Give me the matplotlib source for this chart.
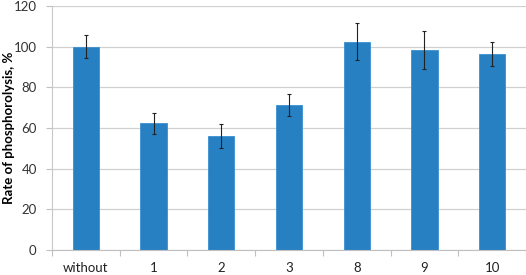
import matplotlib.pyplot as plt
import numpy as np

categories = ["without", "1", "2", "3", "8", "9", "10"]
rates = [100.0, 62.4, 56.2, 71.1, 102.5, 98.4, 96.4]
errors = [5.8, 5.2, 6.0, 5.4, 9.0, 9.3, 6.0]
y_ticks = [0, 20, 40, 60, 80, 100, 120]

plt.rcParams['font.family'] = ['Lato', 'DejaVu Sans']

fig = plt.figure(figsize=(5.26, 2.75), dpi=100)
ax = fig.add_axes([52 / 526, 25 / 275, 474 / 526, 244 / 275])

x = np.arange(len(categories))
ax.bar(x, rates, width=0.39, color="#2680c2", edgecolor="#3a8fd0", linewidth=0.6, zorder=2)
ax.errorbar(x, rates, yerr=errors, fmt="none", ecolor="#222222", elinewidth=0.8,
            capsize=1.5, capthick=0.8, zorder=3)

ax.set_xlim(-0.5, len(categories) - 0.5)
ax.set_ylim(0, 120)
ax.set_yticks(y_ticks)
ax.set_yticklabels([str(t) for t in y_ticks], fontsize=9.5, color="#333333")
ax.yaxis.grid(True, color="#d0d0d0", linewidth=0.9, zorder=0)
ax.tick_params(axis="y", length=4, color="#c0c0c0", width=0.8, pad=7)

ax.set_xticks(x)
ax.set_xticklabels(categories, fontsize=9.5, color="#222222")
ax.tick_params(axis="x", length=0, pad=9)
ax.set_xticks(np.arange(len(categories) + 1) - 0.5, minor=True)
ax.tick_params(axis="x", which="minor", length=4, color="#c0c0c0", width=0.8)

for side in ["top", "right"]:
    ax.spines[side].set_visible(False)
ax.spines["left"].set_color("#c8c8c8")
ax.spines["bottom"].set_color("#c0c0c0")

ax.set_ylabel("Rate of phosphorolysis, %", fontsize=9.5, fontweight="bold",
              family=["Liberation Sans Narrow", "Lato", "DejaVu Sans"])
ax.yaxis.set_label_coords((15 - 52) / 474, 0.5)

fig.savefig("out.png", dpi=100)
